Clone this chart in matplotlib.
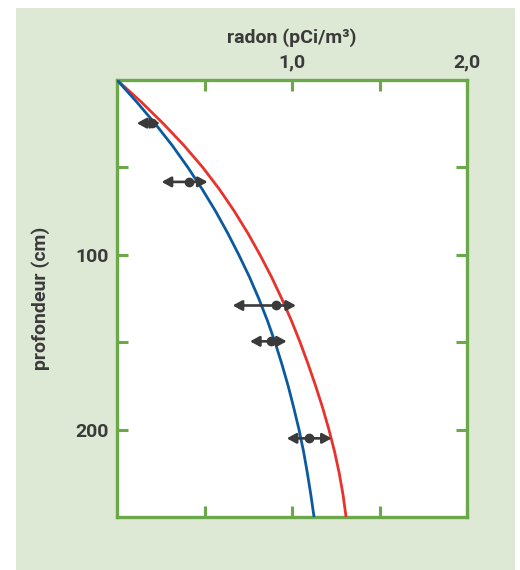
import numpy as np
import matplotlib
matplotlib.use("Agg")
from matplotlib import pyplot as plt
from matplotlib.patches import Rectangle

# curves (depth in cm, radon in pCi/m3)
depth_curve = [0, 12.5, 25, 37.5, 50, 62.5, 75, 87.5, 100, 112.5, 125,
               137.5, 150, 162.5, 175, 187.5, 200, 212.5, 225, 237.5, 250]
radon_blue = [0, 0.112, 0.218, 0.316, 0.405, 0.487, 0.563, 0.632, 0.696, 0.756, 0.810,
              0.859, 0.903, 0.942, 0.978, 1.010, 1.040, 1.066, 1.088, 1.108, 1.126]
radon_red = [0, 0.138, 0.265, 0.383, 0.490, 0.585, 0.670, 0.747, 0.817, 0.882, 0.941,
             0.996, 1.046, 1.092, 1.135, 1.175, 1.211, 1.243, 1.270, 1.292, 1.309]

# measurements with ranges
meas_depth = [24.7, 58.3, 129, 149.5, 205]
meas_value = [0.198, 0.411, 0.907, 0.88, 1.095]
meas_low = [0.113, 0.255, 0.661, 0.76, 0.97]
meas_high = [0.246, 0.518, 1.023, 0.97, 1.227]

x_ticks = [0.5, 1.0, 1.5, 2.0]
x_labels = ["", "1,0", "", "2,0"]
y_ticks = [50, 100, 150, 200]
y_labels = ["", "100", "", "200"]

plt.rcParams['font.family'] = ['Roboto', 'DejaVu Sans']
green = "#6aa84a"
txt = "#3a3a3a"

fig = plt.figure(figsize=(5.2, 5.7), dpi=100)
fig.patch.set_facecolor("white")
bg = Rectangle((16/520, 0), (515 - 16)/520, 1 - 8/570, transform=fig.transFigure,
               facecolor="#dde9d5", edgecolor="none", zorder=-5)
fig.add_artist(bg)

ax = fig.add_axes([117/520, 1 - 517/570, 350/520, 437/570])
ax.set_zorder(1)
ax.set_facecolor("white")

ax.plot(radon_red, depth_curve, color="#e8322c", lw=2.0, zorder=3)
ax.plot(radon_blue, depth_curve, color="#0b5aa0", lw=2.0, zorder=3)

for d, v, lo, hi in zip(meas_depth, meas_value, meas_low, meas_high):
    ax.annotate("", xy=(lo, d), xytext=(hi, d),
                arrowprops=dict(arrowstyle="<|-|>,head_length=0.55,head_width=0.3",
                                color=txt, lw=1.9, shrinkA=0, shrinkB=0), zorder=4)
    ax.plot(v, d, "o", color=txt, ms=6, zorder=5)

ax.set_xlim(0, 2.0)
ax.set_ylim(250, 0)
ax.xaxis.tick_top()
ax.xaxis.set_label_position("top")
ax.set_xticks(x_ticks)
ax.set_xticklabels(x_labels)
ax.set_yticks(y_ticks)
ax.set_yticklabels(y_labels)
ax.tick_params(axis="both", direction="in", length=8, width=2.2, color=green,
               top=True, bottom=True, left=True, right=True,
               labelsize=14, labelcolor=txt, pad=6)
for lab in ax.get_xticklabels() + ax.get_yticklabels():
    lab.set_fontweight("bold")

for s in ax.spines.values():
    s.set_color(green)
    s.set_linewidth(2.4)

ax.set_xlabel("radon (pCi/m³)", fontsize=14, fontweight="bold",
              color=txt, labelpad=8)
ax.set_ylabel("profondeur (cm)", fontsize=14, fontweight="bold", color=txt, labelpad=18)

fig.savefig("out.png", dpi=100)
